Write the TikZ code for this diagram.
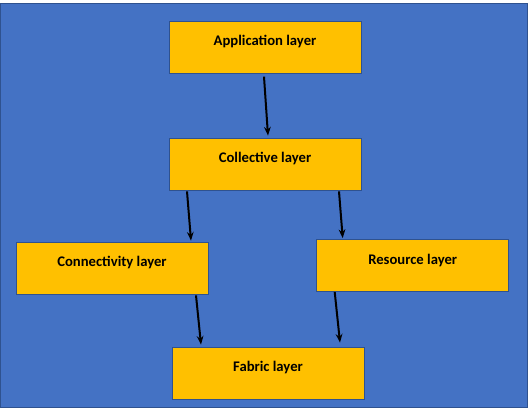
\documentclass[tikz,border=0pt]{standalone}
\usepackage{fontspec}
\setmainfont{Carlito}
\usetikzlibrary{arrows.meta}
\definecolor{bgblue}{HTML}{4472C4}
\definecolor{edgeblue}{HTML}{2F528F}
\definecolor{boxgold}{HTML}{FFC000}
\begin{document}
\begin{tikzpicture}[x=0.75pt,y=-0.75pt,
  layer/.style={draw=edgeblue,line width=0.6pt,fill=boxgold,minimum width=144pt,minimum height=39pt,
    font=\fontsize{11}{13}\selectfont\bfseries,text height=8pt,text depth=10pt},
  link/.style={line width=1.5pt,-{Stealth[length=6.5pt,width=5pt]}}]
\useasboundingbox (0,0) rectangle (531,409);
\fill[bgblue,draw=edgeblue,line width=0.75pt] (0,4) rectangle (527,407);
\node[layer] (app) at (265,47.3) {Application layer};
\node[layer] (coll) at (265,164) {Collective layer};
\node[layer] (conn) at (112,268) {Connectivity layer};
\node[layer] (res) at (412.7,265.5) {Resource layer};
\node[layer] (fab) at (268,373) {Fabric layer};
\draw[link] ([shift={(-1,3)}]app.south) -- ([shift={(3,-2)}]coll.north);
\draw[link] ([shift={(-78,1)}]coll.south) -- ([shift={(79,-1)}]conn.north);
\draw[link] ([shift={(74,1)}]coll.south) -- ([shift={(-70,-1)}]res.north);
\draw[link] ([shift={(84,1)}]conn.south) -- ([shift={(-67,-2)}]fab.north);
\draw[link] ([shift={(-78,0)}]res.south) -- ([shift={(72,-4)}]fab.north);
\end{tikzpicture}
\end{document}
